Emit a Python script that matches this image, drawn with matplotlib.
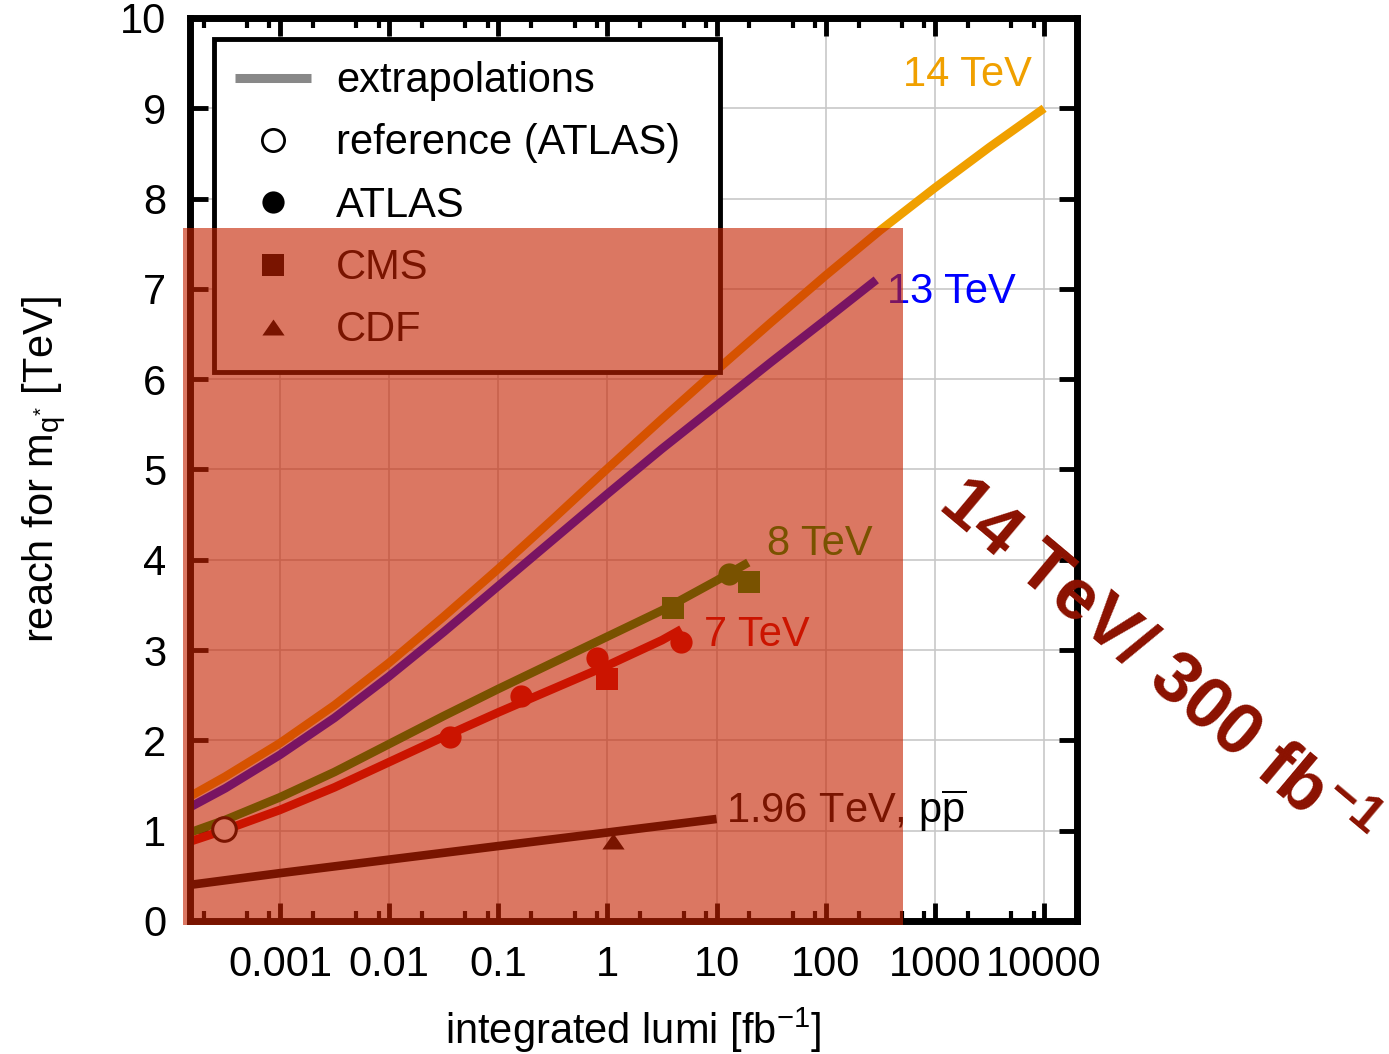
import matplotlib
matplotlib.use("Agg")
import matplotlib.pyplot as plt
from matplotlib.lines import Line2D
from matplotlib.patches import Rectangle
from matplotlib.ticker import FixedLocator, NullFormatter

plt.rcParams['font.family'] = ['Liberation Sans', 'DejaVu Sans']
plt.rcParams['mathtext.fontset'] = 'custom'
plt.rcParams['mathtext.rm'] = 'Liberation Sans'
plt.rcParams['mathtext.it'] = 'Liberation Sans:italic'
plt.rcParams['mathtext.bf'] = 'Liberation Sans:bold'

# ---- extrapolated reach curves: integrated luminosity [fb^-1] vs reach [TeV]
lumi_14 = [1.5e-4, 3.16e-4, 1e-3, 3.16e-3, 1e-2, 3.16e-2, 0.1, 0.316, 1, 3.16,
           10, 31.6, 100, 316, 1000, 3162, 1e4]
reach_14 = [1.38, 1.60, 1.97, 2.39, 2.86, 3.37, 3.90, 4.45, 5.01, 5.56,
            6.10, 6.63, 7.15, 7.65, 8.12, 8.57, 9.0]

lumi_13 = [1.5e-4, 3.16e-4, 1e-3, 3.16e-3, 1e-2, 3.16e-2, 0.1, 0.316, 1, 3.16,
           10, 31.6, 100, 290]
reach_13 = [1.26, 1.47, 1.84, 2.25, 2.71, 3.20, 3.71, 4.22, 4.73, 5.23,
            5.71, 6.19, 6.66, 7.10]

lumi_8 = [1.5e-4, 3.16e-4, 1e-3, 3.16e-3, 1e-2, 3.16e-2, 0.1, 0.316, 1, 3.16,
          10, 19.5]
reach_8 = [0.98, 1.12, 1.37, 1.65, 1.96, 2.27, 2.57, 2.86, 3.15, 3.44,
           3.77, 3.97]

lumi_7 = [1.5e-4, 3.16e-4, 1e-3, 3.16e-3, 1e-2, 3.16e-2, 0.1, 0.316, 1, 3.16, 4.75]
reach_7 = [0.88, 1.01, 1.23, 1.48, 1.76, 2.04, 2.31, 2.57, 2.83, 3.11, 3.23]

lumi_196 = [1.5e-4, 1e-3, 1e-2, 0.1, 1, 10]
reach_196 = [0.40, 0.53, 0.68, 0.83, 0.98, 1.13]

# ---- published limits
ref_lumi = [3.1e-4]
ref_reach = [1.02]

atlas7_lumi = [0.036, 0.163, 0.81, 4.75]
atlas7_reach = [2.04, 2.49, 2.91, 3.09]
cms7_lumi = [1.0]
cms7_reach = [2.68]

atlas8_lumi = [13.0]
atlas8_reach = [3.84]
cms8_lumi = [4.0, 19.6]
cms8_reach = [3.47, 3.75]

cdf_lumi = [1.13]
cdf_reach = [0.89]

x_ticks = [1e-3, 1e-2, 1e-1, 1, 10, 100, 1000, 10000]
x_tick_labels = ['0.001', '0.01', '0.1', '1', '10', '100', '1000', '10000']
y_ticks = list(range(0, 11))

col14 = '#F0A000'
col13 = '#0000FF'
col8 = '#00A000'
col7 = '#D50000'
col196 = '#000000'

W, H = 1389, 1054
fig = plt.figure(figsize=(W / 100, H / 100), dpi=100)
ax = fig.add_axes([190 / W, 1 - 921 / H, 887 / W, 903 / H])

ax.set_xscale('log')
ax.set_xlim(1.5e-4, 2.0e4)
ax.set_ylim(0, 10)

lw = 6.2
for xs, ys, c in [(lumi_14, reach_14, col14), (lumi_13, reach_13, col13),
                  (lumi_8, reach_8, col8), (lumi_7, reach_7, col7),
                  (lumi_196, reach_196, col196)]:
    ax.plot(xs, ys, color=c, lw=lw, solid_capstyle='butt',
            solid_joinstyle='round', zorder=2)

ms = 16
tri = [(-1, -0.72), (1, -0.72), (0, 0.72)]
ax.plot(atlas7_lumi, atlas7_reach, 'o', color=col7, ms=ms, mew=0, zorder=3)
ax.plot(cms7_lumi, cms7_reach, 's', color=col7, ms=ms, mew=0, zorder=3)
ax.plot(atlas8_lumi, atlas8_reach, 'o', color=col8, ms=ms, mew=0, zorder=3)
ax.plot(cms8_lumi, cms8_reach, 's', color=col8, ms=ms, mew=0, zorder=3)
ax.plot(cdf_lumi, cdf_reach, marker=tri, ls='none', color=col196, ms=ms, mew=0, zorder=3)
ax.plot(ref_lumi, ref_reach, 'o', mfc='white', mec='black', ms=ms + 1, mew=2.2, zorder=4)

# curve labels
fs_lab = 30
ax.text(7700, 9.25, '14 TeV', color=col14, fontsize=fs_lab, ha='right', va='baseline')
ax.text(366, 6.84, '13 TeV', color=col13, fontsize=fs_lab, ha='left', va='baseline')
ax.text(29, 4.05, '8 TeV', color=col8, fontsize=fs_lab, ha='left', va='baseline')
ax.text(7.7, 3.05, '7 TeV', color=col7, fontsize=fs_lab, ha='left', va='baseline')
ax.text(12.3, 1.09, r'1.96 TeV, p$\overline{\mathrm{p}}$', color='black',
        fontsize=fs_lab, ha='left', va='baseline')

# axes styling
ax.set_xticks(x_ticks, x_tick_labels)
ax.xaxis.set_minor_locator(FixedLocator(
    [m * 10.0 ** e for e in range(-4, 5) for m in (2, 5, 8)]))
ax.xaxis.set_minor_formatter(NullFormatter())
ax.set_yticks(y_ticks, [str(v) for v in y_ticks])

ax.tick_params(which='major', direction='in', length=13, width=3.5,
               top=True, right=True, labelsize=30)
ax.tick_params(which='minor', direction='in', length=7, width=3,
               top=True, right=True)
ax.tick_params(axis='x', which='major', pad=17)
ax.tick_params(axis='y', which='major', pad=17)
for sp in ax.spines.values():
    sp.set_linewidth(5)
    sp.set_color('black')

ax.grid(True, which='major', color='#c8c8c8', lw=1.2)
ax.set_axisbelow(True)

ax.set_xlabel(r'integrated lumi [fb$^{-1}$]', fontsize=30)
ax.set_ylabel(r'reach for m$_{\mathrm{q}^{*}}$ [TeV]', fontsize=30)
ax.xaxis.set_label_coords(0.5, -0.094)
ax.yaxis.set_label_coords(-0.137, 0.5)

handles = [
    Line2D([], [], color='#888888', lw=6.5, solid_capstyle='butt'),
    Line2D([], [], ls='none', marker='o', mfc='white', mec='black', ms=ms, mew=2),
    Line2D([], [], ls='none', marker='o', color='black', ms=ms, mew=0),
    Line2D([], [], ls='none', marker='s', color='black', ms=ms, mew=0),
    Line2D([], [], ls='none', marker=tri, color='black', ms=ms, mew=0),
]
labels = ['extrapolations', 'reference (ATLAS)', 'ATLAS', 'CMS', 'CDF']
leg = ax.legend(handles, labels, loc='upper left',
                bbox_to_anchor=(0.0265, 0.6124, 0.571, 0.3638), mode='expand',
                borderaxespad=0, fontsize=30, handlelength=1.82,
                handletextpad=0.6, labelspacing=0.536, borderpad=0.52,
                fancybox=False, framealpha=1, numpoints=1)
leg.get_frame().set_edgecolor('black')
leg.get_frame().set_linewidth(3.5)
leg.set_zorder(5)

# shaded region covering the reach of 14 TeV with 300 fb^-1
fig.add_artist(Rectangle((183 / W, 1 - 925 / H), 720 / W, 697 / H,
                         transform=fig.transFigure, facecolor='#C62200',
                         alpha=0.615, edgecolor='none', zorder=10))

fig.text(1155 / W, 1 - 667 / H, r'14 TeV/ 300 fb$^{\mathbf{-1}}$',
         rotation=-40, rotation_mode='anchor', ha='center', va='center',
         fontsize=52, fontweight='bold', color='#8B1100', zorder=11)

fig.savefig('out.png', dpi=100)
